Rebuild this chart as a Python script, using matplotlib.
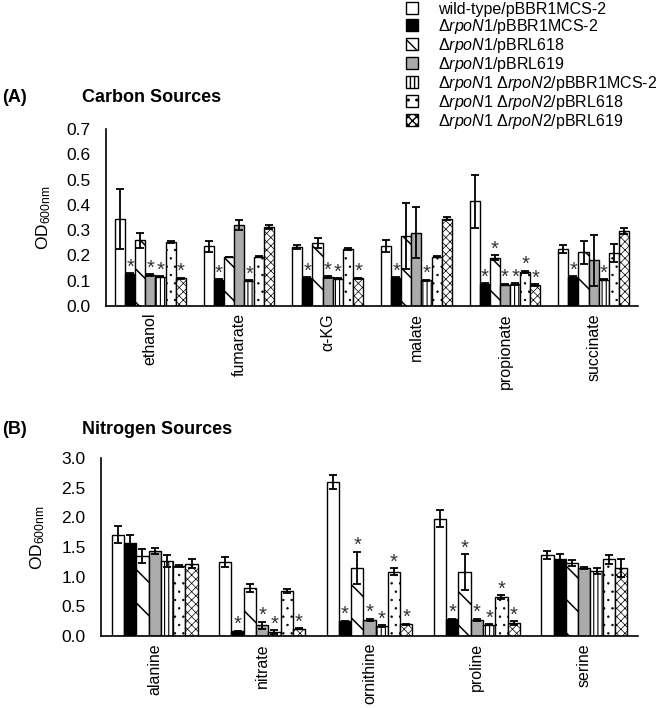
import numpy as np
import matplotlib
matplotlib.use("Agg")
import matplotlib.pyplot as plt

plt.rcParams['font.family'] = ['Liberation Sans', 'DejaVu Sans']
plt.rcParams['mathtext.fontset'] = 'custom'
plt.rcParams['mathtext.rm'] = 'Liberation Sans'
plt.rcParams['mathtext.it'] = 'Liberation Sans:italic'
plt.rcParams['mathtext.bf'] = 'Liberation Sans:bold'
plt.rcParams['hatch.linewidth'] = 1.0

# ---------------- data ----------------
strains = ["wild-type/pBBR1MCS-2",
           r"$\mathit{\Delta rpoN1}$/pBBR1MCS-2",
           r"$\mathit{\Delta rpoN1}$/pBRL618",
           r"$\mathit{\Delta rpoN1}$/pBRL619",
           r"$\mathit{\Delta rpoN1}$ $\mathit{\Delta rpoN2}$/pBBR1MCS-2",
           r"$\mathit{\Delta rpoN1}$ $\mathit{\Delta rpoN2}$/pBRL618",
           r"$\mathit{\Delta rpoN1}$ $\mathit{\Delta rpoN2}$/pBRL619"]

carbon_cats = ["ethanol", "fumarate", "α-KG", "malate", "propionate", "succinate"]
c_wt      = [0.344, 0.237, 0.233, 0.237, 0.414, 0.226]
c_wt_err  = [0.120, 0.022, 0.007, 0.025, 0.105, 0.015]
c_n1      = [0.126, 0.103, 0.110, 0.110, 0.087, 0.114]
c_n1_err  = [0.004, 0.002, 0.003, 0.003, 0.003, 0.004]
c_n1_618  = [0.260, 0.194, 0.250, 0.276, 0.190, 0.213]
c_n1_618_err = [0.030, 0.000, 0.020, 0.130, 0.010, 0.045]
c_n1_619  = [0.122, 0.320, 0.114, 0.290, 0.085, 0.180]
c_n1_619_err = [0.003, 0.020, 0.003, 0.100, 0.002, 0.100]
c_n12     = [0.115, 0.099, 0.107, 0.102, 0.087, 0.104]
c_n12_err = [0.002, 0.002, 0.002, 0.002, 0.002, 0.002]
c_n12_618 = [0.253, 0.195, 0.225, 0.195, 0.134, 0.210]
c_n12_618_err = [0.004, 0.002, 0.003, 0.003, 0.005, 0.035]
c_n12_619 = [0.110, 0.312, 0.110, 0.346, 0.083, 0.296]
c_n12_619_err = [0.002, 0.008, 0.002, 0.005, 0.003, 0.012]
# significance markers (1 = asterisk)
c_sig_wt      = [0, 0, 0, 0, 0, 0]
c_sig_n1      = [1, 1, 1, 1, 1, 1]
c_sig_n1_618  = [0, 0, 0, 0, 1, 0]
c_sig_n1_619  = [1, 0, 1, 0, 1, 0]
c_sig_n12     = [1, 1, 1, 1, 1, 1]
c_sig_n12_618 = [0, 0, 0, 0, 1, 0]
c_sig_n12_619 = [1, 0, 1, 0, 1, 0]

nitrogen_cats = ["alanine", "nitrate", "ornithine", "proline", "serine"]
n_wt      = [1.71, 1.25, 2.60, 1.98, 1.36]
n_wt_err  = [0.14, 0.08, 0.12, 0.15, 0.07]
n_n1      = [1.57, 0.08, 0.25, 0.28, 1.29]
n_n1_err  = [0.14, 0.01, 0.01, 0.01, 0.10]
n_n1_618  = [1.35, 0.81, 1.15, 1.08, 1.23]
n_n1_618_err = [0.12, 0.06, 0.27, 0.30, 0.05]
n_n1_619  = [1.43, 0.18, 0.27, 0.27, 1.15]
n_n1_619_err = [0.05, 0.06, 0.02, 0.02, 0.02]
n_n12     = [1.27, 0.07, 0.17, 0.19, 1.09]
n_n12_err = [0.10, 0.03, 0.01, 0.01, 0.05]
n_n12_618 = [1.18, 0.76, 1.08, 0.66, 1.29]
n_n12_618_err = [0.01, 0.03, 0.06, 0.03, 0.07]
n_n12_619 = [1.22, 0.12, 0.20, 0.22, 1.15]
n_n12_619_err = [0.08, 0.01, 0.01, 0.03, 0.15]
n_sig_wt      = [0, 0, 0, 0, 0]
n_sig_n1      = [0, 1, 1, 1, 0]
n_sig_n1_618  = [0, 0, 1, 1, 0]
n_sig_n1_619  = [0, 1, 1, 1, 0]
n_sig_n12     = [0, 1, 1, 1, 0]
n_sig_n12_618 = [0, 0, 1, 1, 0]
n_sig_n12_619 = [0, 1, 1, 1, 0]

carbon_vals = [c_wt, c_n1, c_n1_618, c_n1_619, c_n12, c_n12_618, c_n12_619]
carbon_errs = [c_wt_err, c_n1_err, c_n1_618_err, c_n1_619_err, c_n12_err, c_n12_618_err, c_n12_619_err]
carbon_sig = [c_sig_wt, c_sig_n1, c_sig_n1_618, c_sig_n1_619, c_sig_n12, c_sig_n12_618, c_sig_n12_619]
nitro_vals = [n_wt, n_n1, n_n1_618, n_n1_619, n_n12, n_n12_618, n_n12_619]
nitro_errs = [n_wt_err, n_n1_err, n_n1_618_err, n_n1_619_err, n_n12_err, n_n12_618_err, n_n12_619_err]
nitro_sig = [n_sig_wt, n_sig_n1, n_sig_n1_618, n_sig_n1_619, n_sig_n12, n_sig_n12_618, n_sig_n12_619]

# ---------------- styles ----------------
faces = ['white', 'black', 'white', '#ababab', 'white', 'white', 'white']
hatches = [None, None, '\\', None, '||||', '..', 'xxxx']
hatch_lw = [1.0, 1.0, 1.1, 1.0, 0.8, 0.5, 0.5]

fig = plt.figure(figsize=(6.72, 7.08), dpi=100)
axA = fig.add_axes([106/672, 1-306/708, 532/672, 177/708])
axB = fig.add_axes([101/672, 1-636/708, 537/672, 178/708])

def draw(ax, cats, vals, errs, sigs, ymax, yticks, fmt):
    n = len(strains)
    x = np.arange(len(cats))
    w = 0.8 / n
    handles = []
    for i in range(n):
        pos = x - 0.4 + w * (i + 0.5)
        with plt.rc_context({'hatch.linewidth': hatch_lw[i]}):
            b = ax.bar(pos, vals[i], width=w, color=faces[i], edgecolor='black',
                       linewidth=1.0, hatch=hatches[i], label=strains[i], zorder=2)
        handles.append(b)
        ax.errorbar(pos, vals[i], yerr=errs[i], fmt='none', ecolor='black',
                    elinewidth=1.3, capsize=3, capthick=1.3, zorder=3)
        for j in range(len(cats)):
            if sigs[i][j]:
                ax.annotate('*', (pos[j], vals[i][j] + errs[i][j]),
                            xytext=(0, 0.5), textcoords='offset points',
                            ha='center', va='baseline', fontsize=14.5,
                            color='#333333')
    ax.set_xlim(-0.5, len(cats) - 0.5)
    ax.set_ylim(0, ymax)
    ax.set_yticks(yticks)
    ax.set_yticklabels([fmt.format(t) for t in yticks], fontsize=12.5)
    ax.set_xticks(x)
    ax.set_xticklabels(cats, rotation=90, fontsize=11.5)
    ax.tick_params(axis='both', length=0)
    ax.tick_params(axis='y', pad=11)
    ax.tick_params(axis='x', pad=5)
    for s in ['top', 'right']:
        ax.spines[s].set_visible(False)
    ax.spines['left'].set_linewidth(1.2)
    ax.spines['bottom'].set_linewidth(1.2)
    ax.set_ylabel(r'OD$_{\mathregular{600nm}}$', fontsize=12.5)
    return handles

hA = draw(axA, carbon_cats, carbon_vals, carbon_errs, carbon_sig, 0.7,
          [0.0, 0.1, 0.2, 0.3, 0.4, 0.5, 0.6, 0.7], '{:.1f}')
hB = draw(axB, nitrogen_cats, nitro_vals, nitro_errs, nitro_sig, 3.0,
          [0.0, 0.5, 1.0, 1.5, 2.0, 2.5, 3.0], '{:.1f}')
axA.yaxis.set_label_coords(-0.10, 0.5)
axB.yaxis.set_label_coords(-0.10, 0.55)

fig.text(2/672, 1-98/708, '(A)', fontsize=13, fontweight='bold', va='center', ha='left')
fig.text(82/672, 1-98/708, 'Carbon Sources', fontsize=13, fontweight='bold', va='center', ha='left')
fig.text(2/672, 1-430/708, '(B)', fontsize=13, fontweight='bold', va='center', ha='left')
fig.text(82/672, 1-430/708, 'Nitrogen Sources', fontsize=13, fontweight='bold', va='center', ha='left')

fig.legend(handles=hA, labels=strains, loc='upper left',
           bbox_to_anchor=(404/672, 1.0), frameon=False, fontsize=11.5,
           handlelength=0.8, handleheight=0.8, handletextpad=1.25,
           labelspacing=0.0, borderaxespad=0, borderpad=0.1)

fig.savefig('out.png', dpi=100)
